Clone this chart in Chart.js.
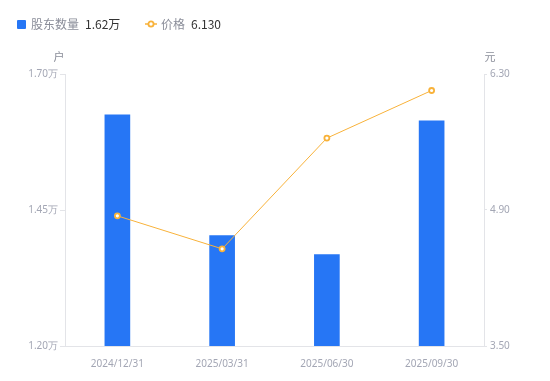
<!DOCTYPE html>
<html><head><meta charset="utf-8">
<script src="https://cdn.jsdelivr.net/npm/chart.js@4"></script>
<style>
html,body{margin:0;padding:0;background:#fff;}
#wrap{position:relative;width:550px;height:381px;font-family:"Noto Sans CJK SC","Noto Sans",sans-serif;}
canvas{position:absolute;left:0;top:0;}
.lg{position:absolute;top:15px;font-size:12px;line-height:18px;white-space:nowrap;}
.nm{color:#8a8d99;}
.vl{color:#333;margin-left:6px;}
.sq{position:absolute;width:9px;height:9px;background:#2676F5;border-radius:1px;}
</style></head>
<body><div id="wrap"><canvas id="c" width="550" height="381"></canvas>
<div class="sq" style="left:17px;top:20px"></div>
<div class="lg" style="left:31px"><span class="nm" id="n0"></span><span class="vl" id="v0"></span></div>
<svg style="position:absolute;left:145px;top:19px" width="12" height="10"><line x1="0" y1="5" x2="12" y2="5" stroke="#F8B23A" stroke-width="1.5"/><circle cx="6" cy="5" r="2.6" fill="#fff" stroke="#F8B23A" stroke-width="1.8"/></svg>
<div class="lg" style="left:161px"><span class="nm" id="n1"></span><span class="vl" id="v1"></span></div>
</div>
<script>
const categories = ['2024/12/31','2025/03/31','2025/06/30','2025/09/30'];
const holders = [1.625, 1.403, 1.368, 1.614]; // 万户
const prices = [4.84, 4.50, 5.64, 6.13];
const seriesNames = ['股东数量','价格'];
const legendValues = ['1.62万','6.130'];
const leftTicks = [1.20, 1.45, 1.70];
const rightTicks = [3.50, 4.90, 6.30];
const axisTitles = ['户','元'];

document.getElementById('n0').textContent = seriesNames[0];
document.getElementById('v0').textContent = legendValues[0];
document.getElementById('n1').textContent = seriesNames[1];
document.getElementById('v1').textContent = legendValues[1];

const tickColor = '#a3a6b4';
const gridColor = '#e3e4e8';
const titlePlugin = {
  id:'axisTitles',
  afterDraw(chart){
    const ctx = chart.ctx;
    ctx.save();
    ctx.font = '11px "Noto Sans CJK SC", sans-serif';
    ctx.fillStyle = '#8a8d99';
    ctx.textAlign = 'center';
    ctx.textBaseline = 'middle';
    ctx.fillText(axisTitles[0], chart.scales.y.right - 6, 57);
    ctx.fillText(axisTitles[1], chart.scales.y1.left + 6, 57);
    ctx.restore();
  }
};
new Chart(document.getElementById('c'), {
  data:{
    labels:categories,
    datasets:[
      {type:'line', label:seriesNames[1], data:prices, yAxisID:'y1', borderColor:'#F8B23A', borderWidth:1,
       pointRadius:2.5, pointBorderWidth:1.8, pointBackgroundColor:'#fff', pointBorderColor:'#F8B23A', tension:0, order:0},
      {type:'bar', label:seriesNames[0], data:holders, yAxisID:'y', backgroundColor:'#2676F5', barThickness:25, order:1}
    ]
  },
  options:{
    responsive:false, animation:false,
    layout:{padding:{top:74,left:0,right:0,bottom:0}},
    plugins:{legend:{display:false}, tooltip:{enabled:false}},
    scales:{
      x:{grid:{display:false}, border:{color:gridColor},
         ticks:{color:tickColor, font:{size:10, family:'"Noto Sans", sans-serif'}, padding:4},
         afterFit(s){s.height = 35;}},
      y:{position:'left', min:1.2, max:1.7,
         afterBuildTicks(s){s.ticks = leftTicks.map(v=>({value:v}));},
         grid:{drawOnChartArea:false, tickLength:5, color:gridColor}, border:{color:gridColor},
         ticks:{color:tickColor, font:{size:10, family:'"Noto Sans", sans-serif'}, padding:2, callback:v=>v.toFixed(2)+'万'},
         afterFit(s){s.width = 65;}},
      y1:{position:'right', min:3.5, max:6.3,
         afterBuildTicks(s){s.ticks = rightTicks.map(v=>({value:v}));},
         grid:{drawOnChartArea:false, tickLength:3, color:gridColor}, border:{color:gridColor},
         ticks:{color:tickColor, font:{size:10, family:'"Noto Sans", sans-serif'}, padding:3, callback:v=>v.toFixed(2)},
         afterFit(s){s.width = 66;}}
    }
  },
  plugins:[titlePlugin]
});
</script></body></html>
